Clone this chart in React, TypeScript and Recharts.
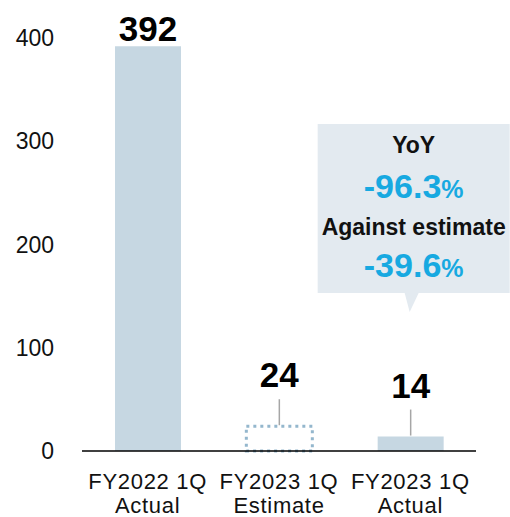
import React from "react";
import { Bar, BarChart, Cell, LabelList, XAxis, YAxis } from "recharts";

const periods = ["FY2022 1Q", "FY2023 1Q", "FY2023 1Q"];
const kinds = ["Actual", "Estimate", "Actual"];
const values = [392, 24, 14];
const yTicks = [0, 100, 200, 300, 400];
const calloutTitles = ["YoY", "Against estimate"];
const calloutValues = ["-96.3", "-39.6"];

const FONT = '"Liberation Sans", Arial, sans-serif';
const BAR = "#c6d7e2";
const CYAN = "#17a9e1";

const data = values.map((v, i) => ({ key: `${periods[i]} ${kinds[i]}`, value: v }));

function CategoryTick(props: any) {
  const { x, y, index } = props;
  return (
    <g fontFamily={FONT} fontSize={22} fill="#111" letterSpacing={0.7}>
      <text x={x} y={y + 38} textAnchor="middle">{periods[index]}</text>
      <text x={x} y={y + 62} textAnchor="middle">{kinds[index]}</text>
    </g>
  );
}

function Callout({ cx }: { cx: number }) {
  const left = cx - 93;
  const right = cx + 99;
  const top = 124;
  const bottom = 293;
  const mid = (left + right) / 2;
  const path = `M${left},${top} H${right} V${bottom} H${cx + 8} L${cx - 1},${bottom + 19} L${cx - 6},${bottom} H${left} Z`;
  return (
    <g fontFamily={FONT} fontWeight="bold" textAnchor="middle">
      <path d={path} fill="#e3eaf0" />
      <text x={mid} y={153} fontSize={23} fill="#111">{calloutTitles[0]}</text>
      <text x={mid} y={198} fill={CYAN}>
        <tspan fontSize={34}>{calloutValues[0]}</tspan>
        <tspan fontSize={25}>%</tspan>
      </text>
      <text x={mid} y={235} fontSize={23} fill="#111">{calloutTitles[1]}</text>
      <text x={mid} y={277} fill={CYAN}>
        <tspan fontSize={34}>{calloutValues[1]}</tspan>
        <tspan fontSize={25}>%</tspan>
      </text>
    </g>
  );
}

function ValueLabel(props: any) {
  const { x, y, width, value, index } = props;
  const cx = x + width / 2;
  if (index === 0) {
    return (
      <text x={cx} y={y - 5} textAnchor="middle" fontFamily={FONT} fontWeight="bold" fontSize={35} fill="#000">
        {value}
      </text>
    );
  }
  return (
    <g>
      <line x1={cx} x2={cx} y1={y - 1} y2={y - 27} stroke="#a6a6a6" strokeWidth={1.5} />
      <text x={cx} y={y - 39} textAnchor="middle" fontFamily={FONT} fontWeight="bold" fontSize={35} fill="#000">
        {value}
      </text>
      {index === 2 && <Callout cx={cx} />}
    </g>
  );
}

export default function App() {
  return (
    <div style={{ position: "absolute", left: 0, top: 0, background: "#fff" }}>
      <BarChart width={510} height={517} data={data} margin={{ top: 38, right: 34, left: 0, bottom: 0 }}>
        <XAxis
          dataKey="key"
          height={66}
          interval={0}
          tickLine={false}
          tickSize={0}
          tickMargin={0}
          axisLine={{ stroke: "#000", strokeWidth: 1.5 }}
          tick={<CategoryTick />}
        />
        <YAxis
          width={82}
          domain={[0, 400]}
          ticks={yTicks}
          axisLine={false}
          tickLine={false}
          tickSize={0}
          tickMargin={28}
          tick={{ fill: "#111", fontSize: 23, fontFamily: FONT }}
        />
        <Bar dataKey="value" barSize={66} isAnimationActive={false}>
          {data.map((d, i) =>
            i === 1 ? (
              <Cell key={d.key} fill="none" stroke="#94b7cd" strokeWidth={3} strokeDasharray="3 4" />
            ) : (
              <Cell key={d.key} fill={BAR} />
            )
          )}
          <LabelList dataKey="value" content={<ValueLabel />} />
        </Bar>
      </BarChart>
    </div>
  );
}
